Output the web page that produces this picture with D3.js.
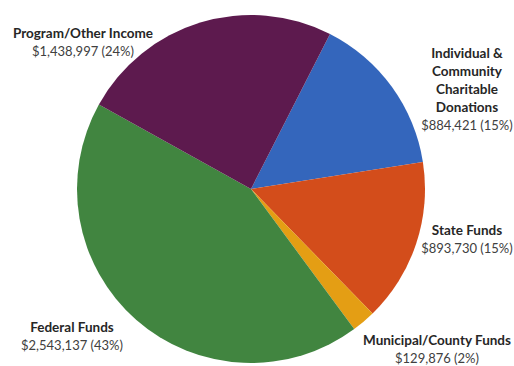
<!DOCTYPE html>
<html>
<head>
<meta charset="utf-8">
<script src="https://cdn.jsdelivr.net/npm/d3@7"></script>
<style>
  body { margin: 0; background: #fff; }
  text { font-family: Lato, "Open Sans", sans-serif; }
  .name { font-weight: bold; fill: #262626; font-size: 13.5px; }
  .val { fill: #404040; font-size: 13px; }
</style>
</head>
<body>
<svg id="chart" width="514" height="366"></svg>
<script>
// slices in drawing order, clockwise from the blue one
var categories = ["Individual & Community Charitable Donations", "State Funds", "Municipal/County Funds", "Federal Funds", "Program/Other Income"];
var values = [884421, 893730, 129876, 2543137, 1438997];
var percents = ["15%", "15%", "2%", "43%", "24%"];
var colors = ["#3466BC", "#D34D1B", "#E49E14", "#418540", "#5D1A4E"];
// label lines as printed
var labelLines = [
    ["Individual &", "Community", "Charitable", "Donations"],
    ["State Funds"],
    ["Municipal/County Funds"],
    ["Federal Funds"],
    ["Program/Other Income"]
];

var svg = d3.select("#chart"),
    cx = 251, cy = 189, radius = 174,
    startAngle = 27 * Math.PI / 180;

var pie = d3.pie()
    .sort(null)
    .startAngle(startAngle)
    .endAngle(startAngle + 2 * Math.PI)
    .value(function (d) { return d; });

var arc = d3.arc().innerRadius(0).outerRadius(radius);

var g = svg.append("g").attr("transform", "translate(" + cx + "," + cy + ")");
g.selectAll("path.slice")
    .data(pie(values))
    .enter().append("path")
    .attr("class", "slice")
    .attr("d", arc)
    .attr("fill", function (d, i) { return colors[i]; });

// label anchor: centre x and baseline y of first line
var labelPos = [
    [467, 58], [467, 235], [437, 345], [72, 332], [83, 38]
];
var fmt = d3.format(",");
var lineH = 18;

labelPos.forEach(function (p, i) {
    var t = svg.append("text")
        .attr("x", p[0]).attr("y", p[1])
        .attr("text-anchor", "middle");
    labelLines[i].forEach(function (s, j) {
        t.append("tspan").attr("class", "name")
            .attr("x", p[0]).attr("dy", j === 0 ? 0 : lineH)
            .text(s);
    });
    t.append("tspan").attr("class", "val")
        .attr("x", p[0]).attr("dy", lineH)
        .text("$" + fmt(values[i]) + " (" + percents[i] + ")");
});
</script>
</body>
</html>
